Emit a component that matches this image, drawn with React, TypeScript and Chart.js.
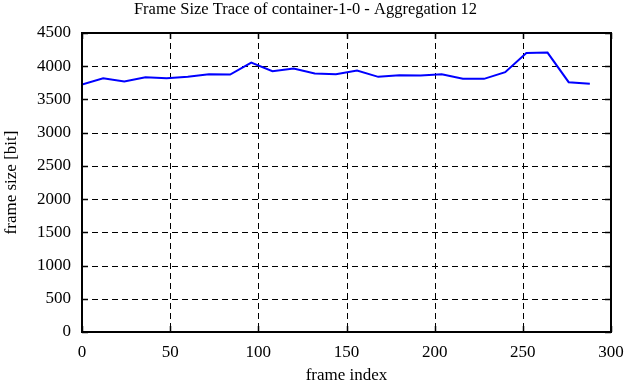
import { useEffect, useRef } from "react";
import { Chart, registerables } from "chart.js";

Chart.register(...registerables);

const frameIndex = [0, 12, 24, 36, 48, 60, 72, 84, 96, 108, 120, 132, 144, 156, 168, 180, 192, 204, 216, 228, 240, 252, 264, 276, 288];
const frameSize = [3725, 3820, 3770, 3835, 3820, 3840, 3880, 3875, 4055, 3925, 3965, 3890, 3880, 3935, 3840, 3865, 3860, 3880, 3810, 3810, 3910, 4200, 4205, 3760, 3735];
const xTicks = [0, 50, 100, 150, 200, 250, 300];
const yTicks = [0, 500, 1000, 1500, 2000, 2500, 3000, 3500, 4000, 4500];

const FONT = "'Liberation Serif', 'Times New Roman', serif";

const gnuplotFrame = {
  id: "gnuplotFrame",
  beforeDatasetsDraw(chart: any) {
    const { ctx, chartArea, scales } = chart;
    const { left, right, top, bottom } = chartArea;
    ctx.save();
    ctx.strokeStyle = "#000";
    ctx.lineWidth = 1;
    ctx.setLineDash([6, 4]);
    ctx.beginPath();
    xTicks.slice(1, -1).forEach((v) => {
      const px = Math.round(scales.x.getPixelForValue(v)) + 0.5;
      ctx.moveTo(px, top);
      ctx.lineTo(px, bottom);
    });
    yTicks.slice(1, -1).forEach((v) => {
      const py = Math.round(scales.y.getPixelForValue(v)) + 0.5;
      ctx.moveTo(left, py);
      ctx.lineTo(right, py);
    });
    ctx.stroke();
    ctx.restore();
  },
  afterDatasetsDraw(chart: any) {
    const { ctx, chartArea, scales } = chart;
    const { left, right, top, bottom } = chartArea;
    const len = 6;
    ctx.save();
    ctx.strokeStyle = "#000";
    ctx.setLineDash([]);
    ctx.lineWidth = 1.5;
    ctx.beginPath();
    xTicks.forEach((v) => {
      const px = Math.round(scales.x.getPixelForValue(v)) + 0.5;
      ctx.moveTo(px, bottom);
      ctx.lineTo(px, bottom - len);
      ctx.moveTo(px, top);
      ctx.lineTo(px, top + len);
    });
    yTicks.forEach((v) => {
      const py = Math.round(scales.y.getPixelForValue(v)) + 0.5;
      ctx.moveTo(left, py);
      ctx.lineTo(left + len, py);
      ctx.moveTo(right, py);
      ctx.lineTo(right - len, py);
    });
    ctx.stroke();
    ctx.lineWidth = 2;
    ctx.strokeRect(left, top, right - left, bottom - top);
    ctx.restore();
  },
};

export default function App() {
  const ref = useRef<HTMLCanvasElement | null>(null);
  useEffect(() => {
    if (!ref.current) return;
    const chart = new Chart(ref.current, {
      type: "line",
      data: {
        datasets: [
          {
            data: frameIndex.map((f, i) => ({ x: f, y: frameSize[i] })),
            borderColor: "#0000ff",
            borderWidth: 2,
            pointRadius: 0,
            tension: 0,
            fill: false,
          },
        ],
      },
      options: {
        animation: false,
        responsive: true,
        maintainAspectRatio: false,
        layout: { padding: { left: 0, right: 15, top: 0, bottom: 0 } },
        plugins: {
          legend: { display: false },
          tooltip: { enabled: false },
          title: {
            display: true,
            text: "Frame Size Trace of container-1-0 - Aggregation 12",
            color: "#000",
            font: { family: FONT, size: 16.5, weight: "normal" },
            padding: { top: 0, bottom: 13.2 },
          },
        },
        scales: {
          x: {
            type: "linear",
            min: 0,
            max: 300,
            afterBuildTicks: (s: any) => {
              s.ticks = xTicks.map((v) => ({ value: v }));
            },
            afterFit: (s: any) => {
              s.height = 50;
              s.paddingLeft = 0;
              s.paddingRight = 0;
            },
            grid: { display: false, drawTicks: false },
            border: { display: false },
            ticks: {
              color: "#000",
              font: { family: FONT, size: 17 },
              padding: 10,
              autoSkip: false,
              maxRotation: 0,
              callback: (v: any) => String(v),
            },
            title: {
              display: true,
              text: "frame index",
              color: "#000",
              font: { family: FONT, size: 17 },
              padding: { top: 0, bottom: -4 },
            },
          },
          y: {
            type: "linear",
            min: 0,
            max: 4500,
            afterBuildTicks: (s: any) => {
              s.ticks = yTicks.map((v) => ({ value: v }));
            },
            afterFit: (s: any) => {
              s.width = 82;
              s.paddingTop = 0;
              s.paddingBottom = 0;
            },
            grid: { display: false, drawTicks: false },
            border: { display: false },
            ticks: {
              color: "#000",
              font: { family: FONT, size: 17 },
              padding: 11,
              autoSkip: false,
              callback: (v: any) => String(v),
            },
            title: {
              display: true,
              text: "frame size [bit]",
              color: "#000",
              font: { family: FONT, size: 17 },
              padding: { top: 1, bottom: 0 },
            },
          },
        },
      },
      plugins: [gnuplotFrame],
    } as any);
    return () => chart.destroy();
  }, []);
  return (
    <div style={{ position: "absolute", left: 0, top: 0, width: 626, height: 382, background: "#fff" }}>
      <canvas ref={ref} />
    </div>
  );
}
